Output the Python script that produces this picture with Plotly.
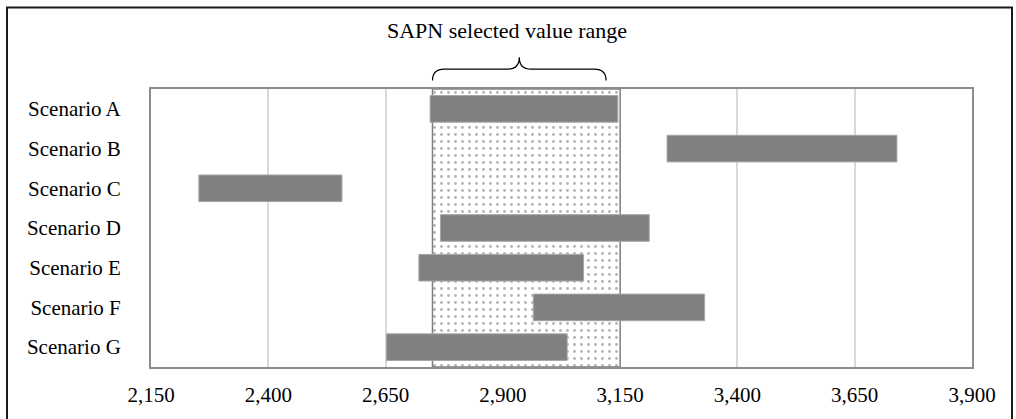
import plotly.graph_objects as go

# scenario ranges (low, high)
scenarios = ["Scenario A", "Scenario B", "Scenario C", "Scenario D",
             "Scenario E", "Scenario F", "Scenario G"]
low = [2745, 3250, 2252, 2767, 2721, 2965, 2652]
high = [3145, 3740, 2557, 3212, 3072, 3330, 3037]

# SAPN selected value range
sel_lo, sel_hi = 2750, 3150
brace_hi = 3120

x_ticks = [2150, 2400, 2650, 2900, 3150, 3400, 3650, 3900]

FONT = "Liberation Serif, Times New Roman, serif"
GREY = "#808080"

fig = go.Figure()

# dotted band behind the bars (main y axis, 0..1)
fig.add_trace(go.Bar(
    x=[sel_hi - sel_lo], base=[sel_lo], y=[0.5], width=[1],
    orientation="h", yaxis="y",
    marker=dict(color="white",
                line=dict(color="#7f7f7f", width=1.5),
                pattern=dict(shape=".", fgcolor="#666666", bgcolor="white",
                             size=7, solidity=0.13)),
    hoverinfo="skip", showlegend=False))

# scenario bars on overlay axis
fig.add_trace(go.Bar(
    x=[h - l for l, h in zip(low, high)], base=low, y=scenarios,
    orientation="h", yaxis="y2", width=0.67,
    marker=dict(color=GREY, line=dict(color="#a6a6a6", width=1)),
    showlegend=False))

fig.update_layout(
    width=1016, height=419,
    margin=dict(l=151, r=44, t=89, b=50),
    paper_bgcolor="white", plot_bgcolor="white",
    barmode="overlay",
    font=dict(family=FONT, size=21, color="black"),
    xaxis=dict(range=[x_ticks[0], x_ticks[-1]], tickvals=x_ticks,
               tickformat=",d", showgrid=True, gridcolor="#d9d9d9",
               gridwidth=1.5, zeroline=False,
               showline=True, linecolor="#8c8c8c", linewidth=2, mirror=True,
               ticks="outside", ticklen=8, tickcolor="rgba(0,0,0,0)"),
    yaxis=dict(range=[0, 1], visible=False, fixedrange=True),
    yaxis2=dict(overlaying="y", side="left", type="category",
                categoryorder="array", categoryarray=scenarios,
                autorange="reversed", showgrid=False, zeroline=False,
                showline=True, linecolor="#8c8c8c", linewidth=2, mirror=True,
                ticks="outside", ticklen=24, tickcolor="rgba(0,0,0,0)"),
)

# brace over the selected range
def py(p):
    return (369 - p) / 280

d = 25
xm = (sel_lo + brace_hi) / 2
ye, ys, yt = py(80.5), py(69), py(57)
path = (f"M {sel_lo},{ye} Q {sel_lo},{ys} {sel_lo + d},{ys} "
        f"L {xm - d},{ys} Q {xm},{ys} {xm},{yt} "
        f"Q {xm},{ys} {xm + d},{ys} L {brace_hi - d},{ys} "
        f"Q {brace_hi},{ys} {brace_hi},{ye}")
fig.add_shape(type="path", path=path, xref="x", yref="paper",
              line=dict(color="black", width=1.2))

fig.add_annotation(text="SAPN selected value range", xref="paper", yref="paper",
                   x=(507 - 151) / 821, y=py(30), showarrow=False,
                   font=dict(size=22), xanchor="center", yanchor="middle")

# outer frame
fig.add_shape(type="rect", xref="paper", yref="paper",
              x0=(7 - 151) / 821, x1=(1012 - 151) / 821, y0=py(430), y1=py(7),
              line=dict(color="#1a1a1a", width=2), fillcolor="rgba(0,0,0,0)")

fig.write_html("out.html", config={"displayModeBar": False},
               post_script="document.body.style.margin='0';")
